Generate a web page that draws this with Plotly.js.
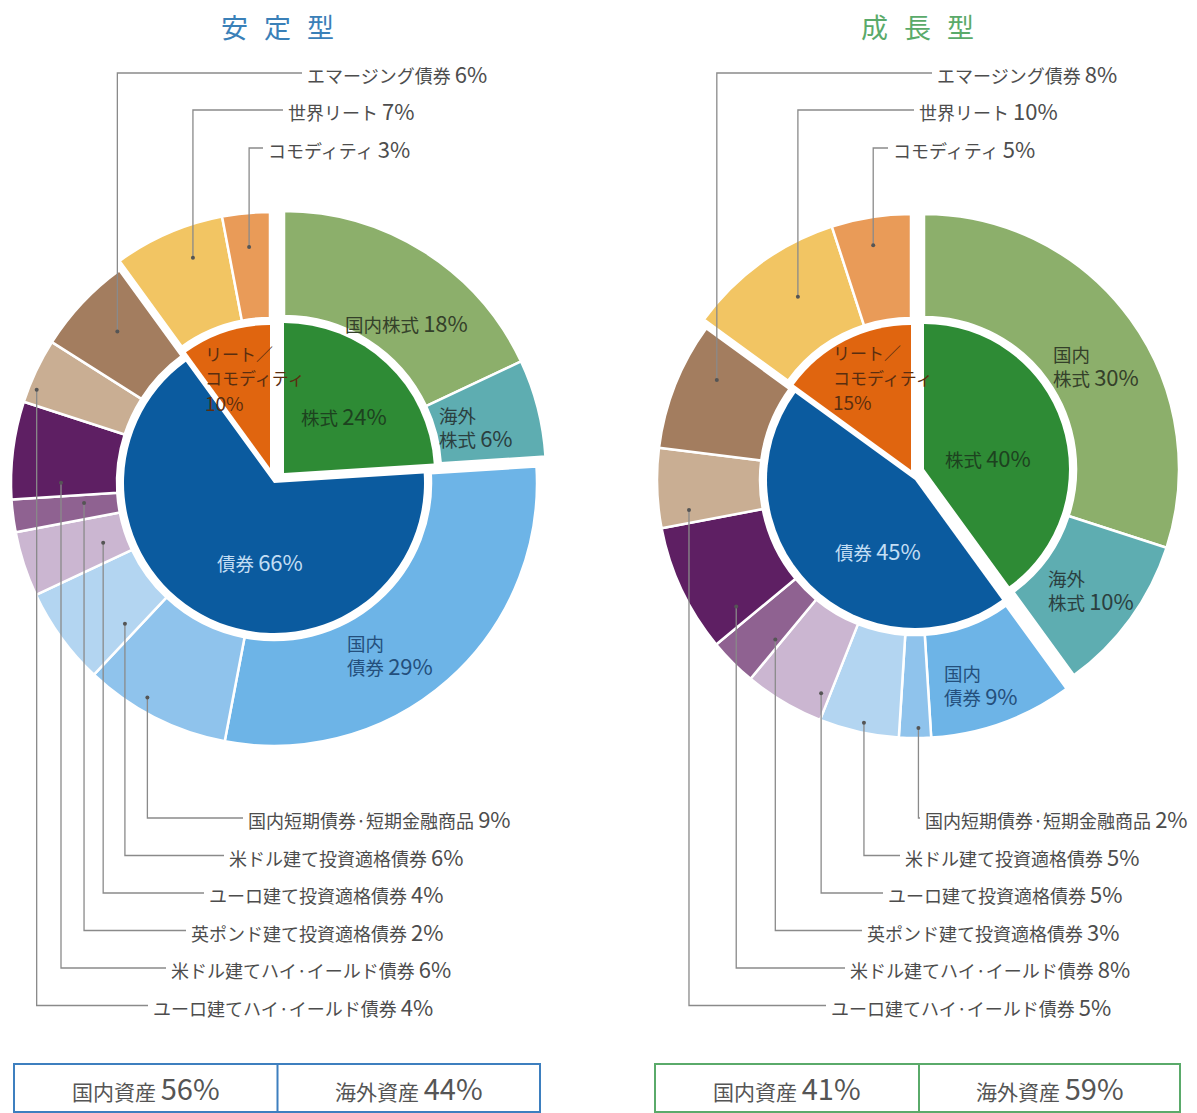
<!DOCTYPE html>
<html><head><meta charset="utf-8">
<script src="https://cdn.plot.ly/plotly-3.0.1.min.js"></script>
<style>html,body{margin:0;padding:0;background:#fff;} #chart{width:1197px;height:1113px;}</style>
</head><body><div id="chart"></div>
<script>
// ---------------- DATA ----------------
const chartTitles = ['安定型', '成長型'];
const innerCategories = ['株式', '債券', 'リート／コモディティ'];
const outerCategories = ['国内株式', '海外株式', '国内債券', '国内短期債券·短期金融商品', '米ドル建て投資適格債券',
  'ユーロ建て投資適格債券', '英ポンド建て投資適格債券', '米ドル建てハイ·イールド債券', 'ユーロ建てハイ·イールド債券',
  'エマージング債券', '世界リート', 'コモディティ'];
const outerParent = ['株式', '株式', '債券', '債券', '債券', '債券', '債券', '債券', '債券', '債券',
  'リート／コモディティ', 'リート／コモディティ'];
const stableInner = [24, 66, 10];
const stableOuter = [18, 6, 29, 9, 6, 4, 2, 6, 4, 6, 7, 3];
const growthInner = [40, 45, 15];
const growthOuter = [30, 10, 9, 2, 5, 5, 3, 8, 5, 8, 10, 5];
const assetCategories = ['国内資産', '海外資産'];
const stableAssets = [56, 44];
const growthAssets = [41, 59];

// ---------------- STYLE / LAYOUT ----------------
const W = 1197, H = 1113;
const FONT = '"Noto Sans CJK JP", "Noto Sans", sans-serif';
const innerColors = ['#2e8b35', '#0b5b9f', '#e0650f'];
const outerColors = ['#8caf6b', '#5eadb1', '#6db4e7', '#8fc3ec', '#b3d5f1', '#cbb6d1', '#8f6291', '#5e1f63',
  '#c9ae93', '#a37d5f', '#f2c563', '#e99b58'];
const titleColors = ['#3a80b8', '#5aaa6a'];
const boxColors = ['#3d7fbf', '#5aaa6a'];

const px = x => x / W;
const py = y => 1 - y / H;
function dom(cx, cy, r) { return {x: [(cx - r) / W, (cx + r) / W], y: [1 - (cy + r) / H, 1 - (cy - r) / H]}; }
function polar(cx, cy, r, deg) { const a = deg * Math.PI / 180; return [cx + r * Math.sin(a), cy - r * Math.cos(a)]; }
const sum = a => a.reduce((s, v) => s + v, 0);

const charts = [
  {
    inner: stableInner, outer: stableOuter, assets: stableAssets, titleX: 277,
    box: {x0: 14, x1: 540, mid: 277.5},
    groups: {
      '株式': {cx: 284, cy: 473, rOut: 262, rHole: 157, rIn: 150},
      '債券': {cx: 274, cy: 483, rOut: 263, rHole: 157, rIn: 150},
      'リート／コモディティ': {cx: 270, cy: 468, rOut: 256, rHole: 150, rIn: 143}
    },
    inside: [
      {ring: 'outer', idx: 0, x: 343, y: 322, anchor: 'left', br: [], color: '#34402a'},
      {ring: 'outer', idx: 1, x: 437, y: 427, anchor: 'left', br: [2], color: '#2b3f40'},
      {ring: 'outer', idx: 2, x: 345, y: 656, anchor: 'left', br: [2], color: '#244f7c'},
      {ring: 'inner', idx: 0, x: 344, y: 415, anchor: 'center', br: [], color: '#1d421f'},
      {ring: 'inner', idx: 1, x: 260, y: 561, anchor: 'center', br: [], color: '#c3def4'},
      {ring: 'inner', idx: 2, x: 203, y: 378, anchor: 'left', br: [4], vbreak: true, color: '#5a2e10'}
    ],
    leaders: [
      {idx: 3, side: 'b', row: 0, tx: 248, f: 0.61, r: 249},
      {idx: 4, side: 'b', row: 1, tx: 229, f: 0.16, r: 205},
      {idx: 5, side: 'b', row: 2, tx: 209, f: 0.41, r: 181},
      {idx: 6, side: 'b', row: 3, tx: 191, f: 0.67, r: 191},
      {idx: 7, side: 'b', row: 4, tx: 171, f: 0.17, r: 213},
      {idx: 8, side: 'b', row: 5, tx: 153, f: 0.24, r: 255},
      {idx: 9, side: 't', row: 0, tx: 307, f: 0.54, r: 218},
      {idx: 10, side: 't', row: 1, tx: 288, f: 0.63, r: 224},
      {idx: 11, side: 't', row: 2, tx: 268, f: 0.5, r: 222}
    ]
  },
  {
    inner: growthInner, outer: growthOuter, assets: growthAssets, titleX: 917,
    box: {x0: 655, x1: 1180, mid: 919},
    groups: {
      '株式': {cx: 924, cy: 469, rOut: 255, rHole: 152, rIn: 145},
      '債券': {cx: 915, cy: 480, rOut: 258, rHole: 155, rIn: 148},
      'リート／コモディティ': {cx: 911, cy: 470, rOut: 256, rHole: 152, rIn: 145}
    },
    inside: [
      {ring: 'outer', idx: 0, x: 1051, y: 367, anchor: 'left', br: [2], color: '#34402a'},
      {ring: 'outer', idx: 1, x: 1046, y: 590, anchor: 'left', br: [2], color: '#2b3f40'},
      {ring: 'outer', idx: 2, x: 942, y: 685, anchor: 'left', br: [2], color: '#244f7c'},
      {ring: 'inner', idx: 0, x: 988, y: 457, anchor: 'center', br: [], color: '#1d421f'},
      {ring: 'inner', idx: 1, x: 878, y: 550, anchor: 'center', br: [], color: '#c3def4'},
      {ring: 'inner', idx: 2, x: 831, y: 377, anchor: 'left', br: [4], vbreak: true, color: '#5a2e10'}
    ],
    leaders: [
      {idx: 3, side: 'b', row: 0, tx: 925, f: 0.39, r: 248},
      {idx: 4, side: 'b', row: 1, tx: 905, f: 0.46, r: 248},
      {idx: 5, side: 'b', row: 2, tx: 888, f: 0.12, r: 233},
      {idx: 6, side: 'b', row: 3, tx: 867, f: 0.15, r: 212},
      {idx: 7, side: 'b', row: 4, tx: 850, f: 0.15, r: 219},
      {idx: 8, side: 'b', row: 5, tx: 831, f: 0.18, r: 228},
      {idx: 9, side: 't', row: 0, tx: 937, f: 0.68, r: 222},
      {idx: 10, side: 't', row: 1, tx: 919, f: 0.58, r: 207},
      {idx: 11, side: 't', row: 2, tx: 893, f: 0.47, r: 228}
    ]
  }
];
const topRows = [73, 110, 148];
const bottomRows = [818, 855.5, 893, 930.5, 968, 1005.5];

function labelText(name, value, br, vbreak, numSize) {
  let s = '', last = 0;
  br.forEach(b => { s += name.slice(last, b) + '<br>'; last = b; });
  s += name.slice(last);
  s += (vbreak ? '<br>' : ' ') + '<span style="font-size:' + numSize + 'px">' + value + '%</span>';
  return s;
}

const traces = [], shapes = [], annotations = [];

charts.forEach((C, ci) => {
  const total = sum(C.outer), innerTotal = sum(C.inner);
  const starts = []; let acc = 0;
  C.outer.forEach(v => { starts.push(acc); acc += v; });

  innerCategories.forEach((cat, gi) => {
    const g = C.groups[cat];
    const idx = outerParent.map((p, i) => p === cat ? i : -1).filter(i => i >= 0);
    const vals = idx.map(i => C.outer[i]);
    traces.push({
      type: 'pie', sort: false, direction: 'clockwise',
      rotation: starts[idx[0]] / total * 360,
      values: vals.concat([total - sum(vals)]),
      labels: idx.map(i => outerCategories[i]).concat(['rest' + ci + gi]),
      hole: g.rHole / g.rOut, domain: dom(g.cx, g.cy, g.rOut),
      marker: {colors: idx.map(i => outerColors[i]).concat(['rgba(0,0,0,0)']),
        line: {color: '#ffffff', width: idx.map(() => 2.5).concat([0])}},
      textinfo: 'none', hoverinfo: 'skip', showlegend: false
    });
    traces.push({
      type: 'pie', sort: false, direction: 'clockwise',
      rotation: sum(C.inner.slice(0, gi)) / innerTotal * 360,
      values: [C.inner[gi], innerTotal - C.inner[gi]],
      labels: [cat + ci, 'restIn' + ci + gi],
      domain: dom(g.cx, g.cy, g.rIn),
      marker: {colors: [innerColors[gi], 'rgba(0,0,0,0)'], line: {color: '#ffffff', width: [0, 0]}},
      textinfo: 'none', hoverinfo: 'skip', showlegend: false
    });
  });

  // inside labels
  C.inside.forEach(L => {
    const name = L.ring === 'outer' ? outerCategories[L.idx] : innerCategories[L.idx];
    const val = L.ring === 'outer' ? C.outer[L.idx] : C.inner[L.idx];
    if (L.vbreak) {
      // one line per annotation (name pieces, then the value)
      const pieces = []; let last = 0;
      L.br.forEach(b => { pieces.push(name.slice(last, b)); last = b; });
      pieces.push(name.slice(last));
      pieces.push('<span style="font-size:19px">' + val + '%</span>');
      pieces.forEach((t, k) => {
        annotations.push({
          xref: 'paper', yref: 'paper', x: px(L.x), y: py(L.y + (k - (pieces.length - 1) / 2) * 24.5),
          xanchor: 'left', yanchor: 'middle', showarrow: false, text: t,
          font: {family: FONT, size: 17, color: L.color}
        });
      });
      return;
    }
    annotations.push({
      xref: 'paper', yref: 'paper', x: px(L.x), y: py(L.y), xanchor: L.anchor, yanchor: 'middle',
      align: 'left', showarrow: false, text: labelText(name, val, L.br, false, 22),
      font: {family: FONT, size: 18.5, color: L.color}
    });
  });

  // leader lines with labels
  C.leaders.forEach(L => {
    const g = C.groups[outerParent[L.idx]];
    const ang = (starts[L.idx] + L.f * C.outer[L.idx]) / total * 360;
    const [dx, dy] = polar(g.cx, g.cy, L.r, ang);
    const ly = L.side === 'b' ? bottomRows[L.row] : topRows[L.row];
    const lx = L.tx - 5;
    shapes.push({type: 'path', xref: 'paper', yref: 'paper',
      path: 'M ' + px(dx) + ',' + py(dy) + ' L ' + px(dx) + ',' + py(ly) + ' L ' + px(lx) + ',' + py(ly),
      line: {color: '#8a8a8a', width: 1.3}});
    shapes.push({type: 'circle', xref: 'paper', yref: 'paper',
      x0: px(dx - 2), x1: px(dx + 2), y0: py(dy + 2), y1: py(dy - 2),
      fillcolor: '#555555', line: {width: 0}});
    annotations.push({
      xref: 'paper', yref: 'paper', x: px(L.tx - 2), y: py(ly), xanchor: 'left', yanchor: 'middle',
      showarrow: false, text: labelText(outerCategories[L.idx], C.outer[L.idx], [], false, 22),
      font: {family: FONT, size: 18, color: '#4d4d4d'}
    });
  });

  // title (spaced characters)
  Array.from(chartTitles[ci]).forEach((ch, k, arr) => {
    annotations.push({
      xref: 'paper', yref: 'paper', x: px(C.titleX + (k - (arr.length - 1) / 2) * 43), y: py(27),
      xanchor: 'center', yanchor: 'middle', showarrow: false, text: ch,
      font: {family: FONT, size: 27, color: titleColors[ci]}
    });
  });

  // bottom box
  const B = C.box;
  shapes.push({type: 'rect', xref: 'paper', yref: 'paper', x0: px(B.x0), x1: px(B.x1), y0: py(1112), y1: py(1064),
    line: {color: boxColors[ci], width: 2}, fillcolor: 'rgba(0,0,0,0)'});
  shapes.push({type: 'line', xref: 'paper', yref: 'paper', x0: px(B.mid), x1: px(B.mid), y0: py(1112), y1: py(1064),
    line: {color: boxColors[ci], width: 2}});
  assetCategories.forEach((a, k) => {
    const cx = k === 0 ? (B.x0 + B.mid) / 2 : (B.mid + B.x1) / 2;
    annotations.push({
      xref: 'paper', yref: 'paper', x: px(cx), y: py(1087), xanchor: 'center', yanchor: 'middle',
      showarrow: false, text: a + ' <span style="font-size:29px">' + C.assets[k] + '%</span>',
      font: {family: FONT, size: 21, color: '#555555'}
    });
  });
});

Plotly.newPlot('chart', traces, {
  width: W, height: H, margin: {l: 0, r: 0, t: 0, b: 0},
  paper_bgcolor: '#ffffff', plot_bgcolor: '#ffffff', showlegend: false,
  font: {family: FONT}, shapes: shapes, annotations: annotations
}, {staticPlot: true});
</script></body></html>
